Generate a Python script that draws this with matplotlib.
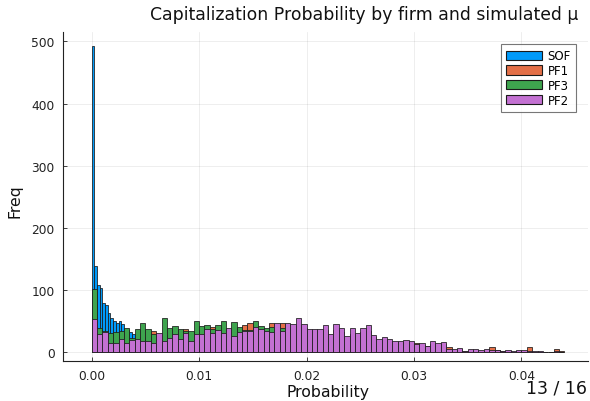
import numpy as np
import matplotlib
matplotlib.use("Agg")
import matplotlib.pyplot as plt
from matplotlib.patches import Patch

# ---- data ----
pf_bin_width = 0.0005
sof_bin_width = 0.00025

pf2 = [53, 29, 33, 16, 16, 22, 16, 20, 21, 19, 19, 15, 32, 19, 24, 29, 22, 32, 19, 30,
       30, 38, 31, 36, 31, 40, 26, 33, 35, 35, 41, 37, 34, 33, 48, 35, 47, 45, 55, 46,
       38, 38, 37, 44, 30, 46, 40, 26, 39, 31, 39, 44, 28, 22, 25, 22, 18, 18, 20, 18,
       13, 15, 11, 18, 15, 17, 6, 5, 7, 3, 5, 5, 4, 5, 4, 4, 3, 4, 3, 4,
       4, 3, 2, 2, 1, 1, 2, 1]

pf3 = [102, 40, 35, 32, 33, 35, 40, 24, 38, 47, 38, 30, 28, 55, 40, 43, 38, 34, 34, 50,
       42, 44, 38, 44, 50, 38, 49, 41, 36, 36, 50, 43, 39, 41, 30, 40, 20, 10, 8, 5,
       3, 2, 1]

pf1 = [45, 25, 28, 20, 18, 25, 20, 18, 22, 25, 24, 34, 27, 28, 26, 30, 27, 38, 25, 33,
       32, 36, 41, 35, 33, 35, 30, 36, 44, 47, 38, 34, 33, 48, 40, 48, 40, 38, 42, 40,
       33, 34, 30, 36, 28, 36, 33, 24, 30, 27, 33, 35, 25, 20, 20, 18, 16, 15, 16, 15,
       16, 12, 10, 14, 12, 13, 8, 3, 5, 2, 3, 3, 2, 3, 8, 4, 2, 2, 1, 2,
       2, 8, 1, 1, 1, 1, 5, 2]

sof = [493, 139, 108, 103, 80, 76, 63, 56, 51, 48, 50, 46, 38, 36, 33, 29, 24, 20, 15, 10,
       6, 3, 2, 1]

series_names = ["SOF", "PF1", "PF3", "PF2"]
series_colors = ["#009AFA", "#E36F47", "#3EA44E", "#C371D2"]

x_ticks = [0.00, 0.01, 0.02, 0.03, 0.04]
x_tick_labels = ["0.00", "0.01", "0.02", "0.03", "0.04"]
y_ticks = [0, 100, 200, 300, 400, 500]

# ---- figure ----
W, H = 590, 402
fig = plt.figure(figsize=(W / 100, H / 100), dpi=100)
ax = fig.add_axes([63 / W, 1 - 362 / H, (588 - 63) / W, (362 - 33) / H])

series = [(sof, sof_bin_width), (pf1, pf_bin_width), (pf3, pf_bin_width), (pf2, pf_bin_width)]
for (vals, bw), col, name in zip(series, series_colors, series_names):
    vals = np.asarray(vals, dtype=float)
    left = np.arange(len(vals)) * bw
    ax.bar(left, vals, width=bw, align="edge", color=col, edgecolor="#1a1a1a",
           linewidth=0.55, label=name, zorder=2)

ax.set_xlim(-0.00267, 0.0462)
ax.set_ylim(-13.7, 515)
ax.set_xticks(x_ticks)
ax.set_xticklabels(x_tick_labels)
ax.set_yticks(y_ticks)
ax.tick_params(direction="in", length=3, width=0.6, labelsize=8.8, colors="#222222",
               labelcolor="#222222", pad=6)
ax.grid(True, color="#000000", alpha=0.08, linewidth=0.6)
ax.set_axisbelow(True)
for s in ["top", "right"]:
    ax.spines[s].set_visible(False)
for s in ["left", "bottom"]:
    ax.spines[s].set_color("#222222")
    ax.spines[s].set_linewidth(0.8)

fig.text(364 / W, 1 - 15 / H, "Capitalization Probability by firm and simulated μ",
         ha="center", va="center", fontsize=12.4, color="#111111")
fig.text(328 / W, 1 - 393 / H, "Probability", ha="center", va="center",
         fontsize=11.3, color="#111111")
fig.text(15 / W, 1 - 201 / H, "Freq", ha="center", va="center", rotation=90,
         fontsize=11.3, color="#111111")
fig.text(556 / W, 1 - 389 / H, "13 / 16", ha="center", va="center",
         fontsize=12.5, color="#111111")

handles = [Patch(facecolor=c, edgecolor="#1a1a1a", linewidth=0.8) for c in series_colors]
leg = ax.legend(handles, series_names, loc="upper right",
                bbox_to_anchor=(576 / W, 1 - 45 / H), bbox_transform=fig.transFigure,
                fontsize=8.5, frameon=True, fancybox=False, edgecolor="#555555",
                handlelength=3.0, handleheight=0.85, labelspacing=0.15,
                borderpad=0.45, handletextpad=0.5, borderaxespad=0)
leg.get_frame().set_linewidth(0.8)

fig.savefig("out.png", dpi=100)
